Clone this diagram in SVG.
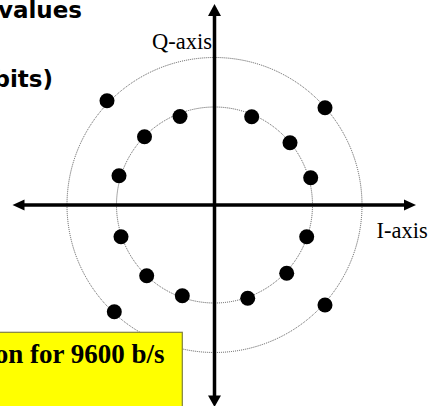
<svg xmlns="http://www.w3.org/2000/svg" width="430" height="406" viewBox="0 0 430 406">
  <style>
    .ring { fill: none; stroke: #555; stroke-width: 1; stroke-dasharray: 1 1; }
    .pt { fill: #000; }
    .axis { stroke: #000; stroke-width: 3.5; fill: none; }
    .head { fill: #000; }
    .title { font-family: "DejaVu Sans", Verdana, sans-serif; font-weight: bold; font-size: 23px; fill: #000; }
    .lab { font-family: "Liberation Serif", "Times New Roman", serif; font-size: 22.5px; fill: #000; }
    .note { font-family: "Liberation Serif", "Times New Roman", serif; font-weight: bold; font-size: 27px; fill: #000; }
  </style>
  <rect width="430" height="406" fill="#fff"/>
  <g id="title">
    <text class="title" x="82" y="17.5" text-anchor="end">values</text>
    <text class="title" x="53" y="86.5" text-anchor="end">bits)</text>
  </g>
  <g id="rings">
    <circle class="ring" cx="214.5" cy="205" r="147.5"/>
    <circle class="ring" cx="214.5" cy="205" r="98"/>
  </g>
  <g id="outer-points">
    <circle class="pt" cx="107" cy="100.7" r="7.5"/>
    <circle class="pt" cx="325" cy="107.7" r="7.5"/>
    <circle class="pt" cx="325" cy="305" r="7.5"/>
    <circle class="pt" cx="114.3" cy="311.7" r="7.5"/>
  </g>
  <g id="inner-points">
    <circle class="pt" cx="180" cy="116.5" r="7.5"/>
    <circle class="pt" cx="144.5" cy="136.7" r="7.5"/>
    <circle class="pt" cx="119" cy="175.7" r="7.5"/>
    <circle class="pt" cx="121" cy="236.7" r="7.5"/>
    <circle class="pt" cx="146.7" cy="275.7" r="7.5"/>
    <circle class="pt" cx="182.3" cy="295.7" r="7.5"/>
    <circle class="pt" cx="247.7" cy="298.3" r="7.5"/>
    <circle class="pt" cx="286.7" cy="273.3" r="7.5"/>
    <circle class="pt" cx="306.7" cy="236.7" r="7.5"/>
    <circle class="pt" cx="310.7" cy="177.7" r="7.5"/>
    <circle class="pt" cx="290" cy="142.7" r="7.5"/>
    <circle class="pt" cx="251.7" cy="116.7" r="7.5"/>
  </g>
  <g id="note">
    <rect x="-10" y="332.3" width="192.3" height="90" fill="#ffff00" stroke="#808040" stroke-width="1.2"/>
    <text class="note" x="164.5" y="362.5" text-anchor="end">on for 9600 b/s</text>
  </g>
  <g id="axes">
    <line class="axis" x1="214.5" y1="15" x2="214.5" y2="396"/>
    <polygon class="head" points="214.5,4 208,16 221,16"/>
    <polygon class="head" points="214.5,407 208,395.5 221,395.5"/>
    <line class="axis" x1="23" y1="205" x2="406" y2="205"/>
    <polygon class="head" points="12.5,205 24.5,199.5 24.5,210.5"/>
    <polygon class="head" points="416,205 404,199.5 404,210.5"/>
  </g>
  <g id="labels">
    <text class="lab" x="152" y="48.5">Q-axis</text>
    <text class="lab" x="376.5" y="237.7">I-axis</text>
  </g>
</svg>
